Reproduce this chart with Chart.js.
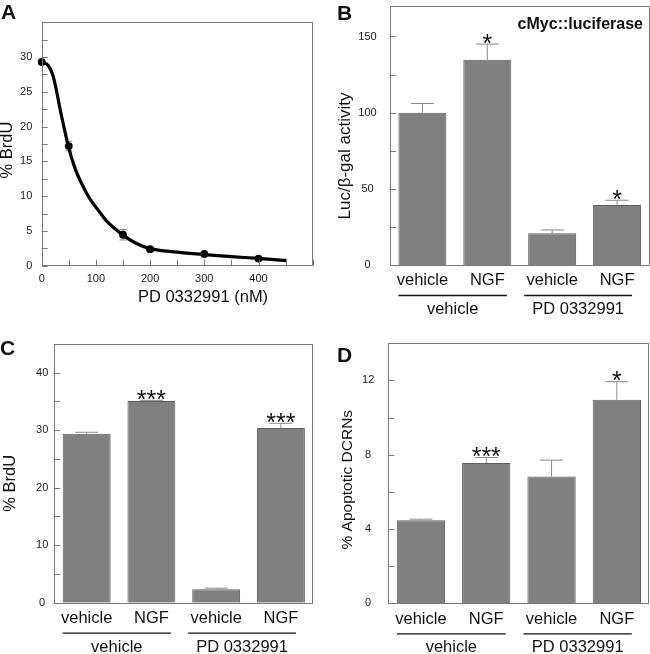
<!DOCTYPE html>
<html><head><meta charset="utf-8">
<script src="https://cdn.jsdelivr.net/npm/chart.js@4.4.1/dist/chart.umd.min.js"></script>
<style>
html,body{margin:0;padding:0;background:#fff;}
body{width:650px;height:654px;position:relative;overflow:hidden;}
.p{position:absolute;}
canvas{display:block;}
</style></head><body>
<div class="p" style="left:0;top:0;"><canvas id="cA" width="325" height="320"></canvas></div>
<div class="p" style="left:325px;top:0;"><canvas id="cB" width="325" height="320"></canvas></div>
<div class="p" style="left:0;top:320px;"><canvas id="cC" width="325" height="334"></canvas></div>
<div class="p" style="left:325px;top:320px;"><canvas id="cD" width="325" height="334"></canvas></div>
<script>
// ---------- data ----------
const doseNM = [0, 50, 150, 200, 300, 400];
const brduDose = [29.3, 17.2, 4.45, 2.37, 1.69, 1.02];
const brduDoseErr = [0.2, 0.7, 0.75, 0.25, 0.2, 0.2];
const fitDose = [0, 12, 21, 28, 34, 42, 49, 61, 75, 89, 105, 120, 150, 175, 200, 250, 300, 350, 400, 452];
const fitBrdu = [29.3, 28.8, 27.3, 24.9, 22.5, 19.6, 17.2, 14.1, 11.6, 9.6, 7.9, 6.4, 4.4, 3.2, 2.45, 1.95, 1.6, 1.3, 1.05, 0.72];

const categories = ['vehicle', 'NGF', 'vehicle', 'NGF'];
const groups = ['vehicle', 'PD 0332991'];

const lucActivity = [100, 134.7, 20.8, 39.4];
const lucErr = [6, 10.3, 2.2, 3.1];
const lucSig = ['', '*', '', '*'];

const brduTreat = [29.4, 35.1, 2.35, 30.4];
const brduTreatErr = [0.25, 0.1, 0.17, 0.8];
const brduSig = ['', '***', '', '***'];

const apoptotic = [4.47, 7.55, 6.83, 10.96];
const apoptoticErr = [0.06, 0.3, 0.88, 0.97];
const apoptoticSig = ['', '***', '', '*'];

// ---------- helpers ----------
const FONT = '"Liberation Sans", Arial, Helvetica, sans-serif';
Chart.defaults.animation = false;
Chart.defaults.font.family = FONT;

function txt(ctx, s, x, y, size, o) {
  o = o || {};
  ctx.save();
  ctx.font = (o.bold ? 'bold ' : '') + size + 'px ' + FONT;
  ctx.fillStyle = o.color || '#111';
  ctx.textAlign = o.align || 'center';
  ctx.textBaseline = o.baseline || 'middle';
  ctx.translate(x, y);
  if (o.rot) ctx.rotate(o.rot);
  ctx.fillText(s, 0, 0);
  ctx.restore();
}
function star(ctx, s, cx, cy, size) {
  ctx.save();
  ctx.font = size + 'px ' + FONT;
  ctx.textAlign = 'center';
  ctx.textBaseline = 'alphabetic';
  const m = ctx.measureText(s);
  const base = cy + (m.actualBoundingBoxAscent - m.actualBoundingBoxDescent) / 2;
  ctx.fillStyle = '#111';
  ctx.fillText(s, cx, base);
  ctx.restore();
}
function line(ctx, x1, y1, x2, y2) {
  ctx.beginPath(); ctx.moveTo(x1, y1); ctx.lineTo(x2, y2); ctx.stroke();
}
const isMult = (v, s) => Math.abs(v / s - Math.round(v / s)) < 1e-6;

const framePlugin = {
  id: 'frame',
  beforeDatasetsDraw(chart, args, o) {
    const ctx = chart.ctx, ys = chart.scales.y;
    ctx.save();
    ctx.strokeStyle = '#8a8a8a';
    ctx.lineWidth = 1;
    if (o.barErr) {
      const meta = chart.getDatasetMeta(0).data;
      const vals = chart.data.datasets[0].data;
      meta.forEach((el, i) => {
        const cy = ys.getPixelForValue(vals[i] + o.barErr[i]);
        line(ctx, el.x, el.y, el.x, cy);
        line(ctx, el.x - 11.5, cy, el.x + 11.5, cy);
      });
    }
    if (o.ptErr) {
      const meta = chart.getDatasetMeta(o.ptDs).data;
      const vals = chart.data.datasets[o.ptDs].data;
      meta.forEach((el, i) => {
        const y1 = ys.getPixelForValue(vals[i].y + o.ptErr[i]);
        const y2 = ys.getPixelForValue(vals[i].y - o.ptErr[i]);
        line(ctx, el.x, y1, el.x, y2);
        line(ctx, el.x - 3.5, y1, el.x + 3.5, y1);
        line(ctx, el.x - 3.5, y2, el.x + 3.5, y2);
      });
    }
    ctx.restore();
  },
  afterDraw(chart, args, o) {
    const ctx = chart.ctx, a = chart.chartArea;
    const xs = chart.scales.x, ys = chart.scales.y;
    ctx.save();
    ctx.strokeStyle = '#7a7a7a';
    ctx.lineWidth = 1;
    // inward ticks
    ys.ticks.forEach(t => {
      if (!isMult(t.value, o.yStep)) return;
      const y = Math.round(ys.getPixelForValue(t.value)) + 0.5;
      line(ctx, a.left, y, a.left + 6, y);
    });
    if (o.xStep) {
      xs.ticks.forEach(t => {
        if (!isMult(t.value, o.xStep)) return;
        const x = Math.round(xs.getPixelForValue(t.value)) + 0.5;
        line(ctx, x, a.bottom, x, a.bottom - 6);
      });
    }
    // box
    ctx.strokeRect(Math.round(a.left) + 0.5, Math.round(a.top) + 0.5,
      Math.round(a.right - a.left) - 1, Math.round(a.bottom - a.top));
    // significance stars
    if (o.sig) {
      const meta = chart.getDatasetMeta(0).data;
      const vals = chart.data.datasets[0].data;
      meta.forEach((el, i) => {
        if (!o.sig[i]) return;
        const cy = ys.getPixelForValue(vals[i] + o.barErr[i]) - 5.5;
        star(ctx, o.sig[i], el.x, cy, 25);
      });
    }
    // group lines and labels
    if (o.groups) {
      const c = [0, 1, 2, 3].map(i => xs.getPixelForValue(i));
      const spans = [[c[0] - 24, c[1] + 19.5], [c[2] - 28, c[3] + 15]];
      ctx.strokeStyle = '#111';
      ctx.lineWidth = 1.3;
      const ly = a.bottom + 30.5;
      spans.forEach((sp, i) => {
        line(ctx, sp[0], ly, sp[1], ly);
        txt(ctx, o.groups[i], (sp[0] + sp[1]) / 2, a.bottom + 44.5, 16.5);
      });
    }
    // texts
    (o.texts || []).forEach(t => txt(ctx, t.s, t.x, t.y, t.size, t));
    ctx.restore();
  }
};

function baseY(area, max, step, labelStep, labelMax, pad, cross) {
  return {
    type: 'linear', min: 0, max: max,
    afterFit(s) { s.width = area.left; s.paddingTop = 0; s.paddingBottom = 0; },
    grid: { display: false, drawTicks: false },
    border: { display: false },
    ticks: {
      stepSize: step, autoSkip: false, padding: pad, crossAlign: cross,
      font: { size: 11, family: FONT }, color: '#1a1a1a',
      callback: v => (isMult(v, labelStep) && v <= labelMax) ? String(v) : ''
    }
  };
}

function barPanel(id, area, values, errs, sig, yopt, texts) {
  return new Chart(document.getElementById(id), {
    type: 'bar',
    data: {
      labels: categories,
      datasets: [{
        data: values,
        backgroundColor: '#808080',
        borderColor: '#5e5e5e',
        borderWidth: 1,
        barPercentage: 0.74,
        categoryPercentage: 1.0
      }]
    },
    options: {
      responsive: false,
      events: [],
      layout: { padding: { left: 0, top: area.top, right: area.W - area.right, bottom: 0 } },
      plugins: {
        legend: { display: false }, tooltip: { enabled: false },
        frame: { yStep: yopt.step, barErr: errs, sig: sig, groups: groups, texts: texts }
      },
      scales: {
        x: {
          type: 'category',
          afterFit(s) { s.height = area.H - area.bottom; s.paddingLeft = 0; s.paddingRight = 0; },
          grid: { display: false, drawTicks: false },
          border: { display: false },
          ticks: { font: { size: 16.5, family: FONT }, color: '#111', padding: 6, maxRotation: 0, autoSkip: false }
        },
        y: baseY(area, yopt.max, yopt.step, yopt.labelStep, yopt.labelMax, yopt.pad, 'center')
      }
    },
    plugins: [framePlugin]
  });
}

// ---------- Panel A ----------
const areaA = { W: 325, H: 320, left: 41.7, right: 312.7, top: 22.3, bottom: 265.7 };
new Chart(document.getElementById('cA'), {
  type: 'scatter',
  data: {
    datasets: [
      {
        type: 'line',
        data: fitDose.map((x, i) => ({ x: x, y: fitBrdu[i] })),
        borderColor: '#000', borderWidth: 3.2, pointRadius: 0,
        cubicInterpolationMode: 'monotone', fill: false, clip: false
      },
      {
        type: 'scatter',
        data: doseNM.map((x, i) => ({ x: x, y: brduDose[i] })),
        pointRadius: 3.9, backgroundColor: '#000', borderColor: '#000', borderWidth: 0, clip: false
      }
    ]
  },
  options: {
    responsive: false,
    events: [],
    layout: { padding: { left: 0, top: areaA.top, right: areaA.W - areaA.right, bottom: 0 } },
    plugins: {
      legend: { display: false }, tooltip: { enabled: false },
      frame: {
        yStep: 2.5, xStep: 50, ptErr: brduDoseErr, ptDs: 1,
        texts: [
          { s: 'A', x: 1, y: 18.5, size: 21, bold: true, align: 'left', baseline: 'alphabetic' },
          { s: 'PD 0332991 (nM)', x: 203, y: 297.7, size: 16.5 },
          { s: '% BrdU', x: 7, y: 150, size: 16.5, rot: -Math.PI / 2 }
        ]
      }
    },
    scales: {
      x: {
        type: 'linear', min: 0, max: 500,
        afterFit(s) { s.height = areaA.H - areaA.bottom; s.paddingLeft = 0; s.paddingRight = 0; },
        grid: { display: false, drawTicks: false },
        border: { display: false },
        ticks: {
          stepSize: 50, autoSkip: false, padding: 6.5, maxRotation: 0,
          font: { size: 11, family: FONT }, color: '#1a1a1a',
          callback: v => (isMult(v, 100) && v < 500) ? String(v) : ''
        }
      },
      y: baseY(areaA, 35, 2.5, 5, 30, 9.4, 'near')
    }
  },
  plugins: [framePlugin]
});

// ---------- Panel B ----------
barPanel('cB', { W: 325, H: 320, left: 65, right: 324.5, top: 6, bottom: 265 },
  lucActivity, lucErr, lucSig,
  { max: 170, step: 25, labelStep: 50, labelMax: 150, pad: 13.3 },
  [
    { s: 'B', x: 12, y: 20, size: 21, bold: true, align: 'left', baseline: 'alphabetic' },
    { s: 'cMyc::luciferase', x: 318, y: 25, size: 16, bold: true, align: 'right' },
    { s: 'Luc/β-gal activity', x: 20, y: 156, size: 17, rot: -Math.PI / 2 }
  ]);

// ---------- Panel C ----------
barPanel('cC', { W: 325, H: 334, left: 54.3, right: 313.3, top: 24, bottom: 282.7 },
  brduTreat, brduTreatErr, brduSig,
  { max: 45, step: 5, labelStep: 10, labelMax: 40, pad: 6 },
  [
    { s: 'C', x: 0, y: 35, size: 21, bold: true, align: 'left', baseline: 'alphabetic' },
    { s: '% BrdU', x: 10, y: 163.3, size: 16.5, rot: -Math.PI / 2 }
  ]);

// ---------- Panel D ----------
barPanel('cD', { W: 325, H: 334, left: 63.3, right: 324.5, top: 23.3, bottom: 283.3 },
  apoptotic, apoptoticErr, apoptoticSig,
  { max: 14, step: 2, labelStep: 4, labelMax: 12, pad: 14 },
  [
    { s: 'D', x: 12, y: 42, size: 21, bold: true, align: 'left', baseline: 'alphabetic' },
    { s: '% Apoptotic DCRNs', x: 22.5, y: 159.7, size: 15.5, rot: -Math.PI / 2 }
  ]);
</script>
</body></html>
